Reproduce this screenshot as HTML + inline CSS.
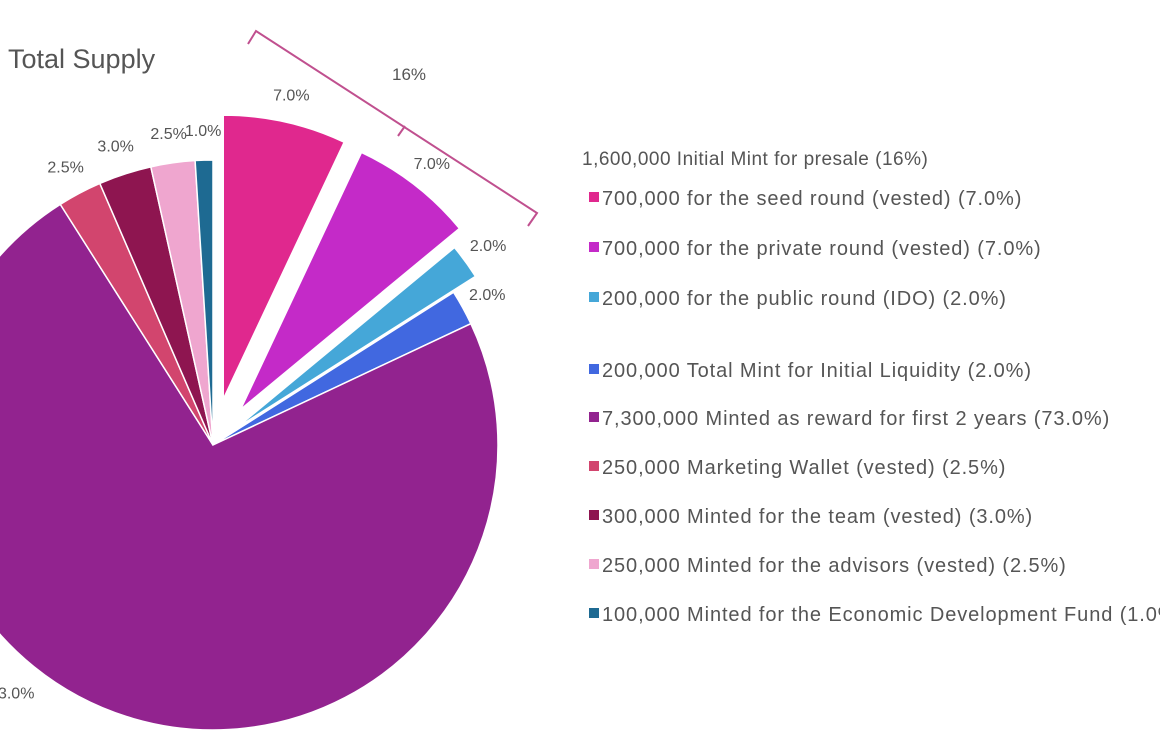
<!DOCTYPE html>
<html><head><meta charset="utf-8"><style>
html,body{margin:0;padding:0;background:#fff;}
svg{display:block;font-family:"Liberation Sans",sans-serif;}
</style></head><body>
<svg id="chart" width="1160" height="740" viewBox="0 0 1160 740">
<text x="8" y="68" font-size="27" fill="#555">Total Supply</text>
<g stroke="#c0508f" stroke-width="2" fill="none">
<polyline points="248,44 256,31 537,213 528,226"/>
<line x1="405" y1="126" x2="398" y2="136"/>
</g>
<text x="392" y="80" font-size="17" fill="#555">16%</text>
<g id="slices"></g><g id="labels"></g><g id="legend"></g>
</svg>
<script>
const categories=["700,000 for the seed round (vested) (7.0%)","700,000 for the private round (vested) (7.0%)","200,000 for the public round (IDO) (2.0%)","200,000 Total Mint for Initial Liquidity (2.0%)","7,300,000 Minted as reward for first 2 years (73.0%)","250,000 Marketing Wallet (vested) (2.5%)","300,000 Minted for the team (vested) (3.0%)","250,000 Minted for the advisors (vested) (2.5%)","100,000 Minted for the Economic Development Fund (1.0%)"];
const values=[7.0,7.0,2.0,2.0,73.0,2.5,3.0,2.5,1.0];
const printedLabels=["7.0%","7.0%","2.0%","2.0%","73.0%","2.5%","3.0%","2.5%","1.0%"];
const colors=["#e0288e","#c42ac8","#45a7d8","#4168e0","#92238f","#d2456e","#8e1550","#efa6cf","#1e6a92"];
const explode=[47,45,28,0,0,0,0,0,0];
const ns="http://www.w3.org/2000/svg";
const cx=213,cy=445,R=285;
const total=values.reduce((a,b)=>a+b,0);
function ang(v){return v/total*2*Math.PI;}
function pt(x,y,r,a){return [x+r*Math.sin(a),y-r*Math.cos(a)];}
const sg=document.getElementById('slices'),lg=document.getElementById('labels'),leg=document.getElementById('legend');
let acc=0;
values.forEach((v,i)=>{
 const a0=ang(acc),a1=ang(acc+v),mid=(a0+a1)/2;acc+=v;
 const [ox,oy]=pt(cx,cy,explode[i],mid);
 const rr=i<3?284:R;
 const p0=pt(ox,oy,rr,a0),p1=pt(ox,oy,rr,a1);
 const large=(a1-a0)>Math.PI?1:0;
 const path=document.createElementNS(ns,'path');
 path.setAttribute('d',`M${ox},${oy} L${p0[0]},${p0[1]} A${rr},${rr} 0 ${large} 1 ${p1[0]},${p1[1]} Z`);
 path.setAttribute('fill',colors[i]);
 path.setAttribute('stroke','#fff');path.setAttribute('stroke-width','1.5');
 
 
 sg.appendChild(path);
 const la=i===4?mid+0.4:mid;
 const lp=pt(ox,oy,rr+(i===4?34:(i>=5?30:28)),la);
 const t=document.createElementNS(ns,'text');
 t.setAttribute('x',lp[0]);t.setAttribute('y',lp[1]+6);
 t.setAttribute('text-anchor','middle');
 t.setAttribute('font-size','16');t.setAttribute('fill','#555');
 
 
 t.textContent=printedLabels[i];
 lg.appendChild(t);
});
const hdr=document.createElementNS(ns,'text');
hdr.setAttribute('x',582);hdr.setAttribute('y',165);hdr.setAttribute('font-size','19');hdr.setAttribute('fill','#555');hdr.setAttribute('letter-spacing','0.5');


hdr.textContent="1,600,000 Initial Mint for presale (16%)";
leg.appendChild(hdr);
const rowY=[198,248,298,370,418,467,516,565,614];
categories.forEach((c,i)=>{
 const g=document.createElementNS(ns,'g');
 
 
 const r=document.createElementNS(ns,'rect');
 r.setAttribute('x',589);r.setAttribute('y',rowY[i]-6);r.setAttribute('width',10);r.setAttribute('height',10);r.setAttribute('fill',colors[i]);
 g.appendChild(r);
 const t=document.createElementNS(ns,'text');
 t.setAttribute('x',602);t.setAttribute('y',rowY[i]+7);t.setAttribute('font-size','20');t.setAttribute('fill','#555');t.setAttribute('letter-spacing','0.9');
 t.textContent=c;g.appendChild(t);leg.appendChild(g);
});
</script>
</body></html>
